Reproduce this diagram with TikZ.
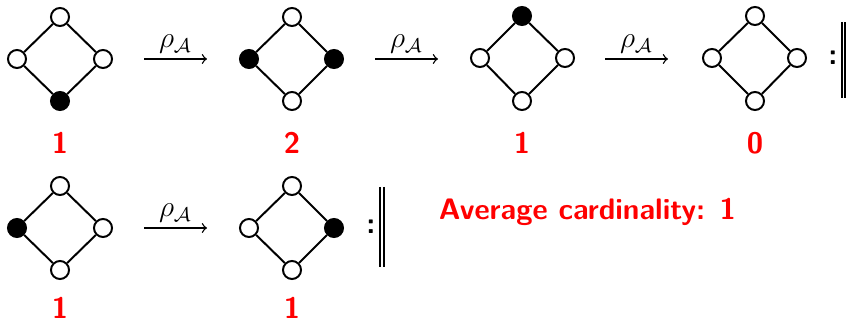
\documentclass[tikz,border=0pt]{standalone}
\usepackage{amsmath}
\usepackage{amsfonts}
\usepackage{tikz}
\usetikzlibrary{arrows}
\tikzstyle{var}=[circle,draw,fill=white,thick,minimum size=7.3pt,inner sep=0pt]
\tikzstyle{fvar}=[var,fill=black]
\tikzstyle{lnk}=[draw,thick]
\tikzstyle{arr}=[->,draw,line width=0.55pt]
\tikzstyle{lab}=[above,font=\large,inner sep=2pt]
\tikzstyle{card}=[text=red,font=\large\sffamily\bfseries,inner sep=1pt]
\tikzstyle{rep}=[font=\large\sffamily\bfseries,inner sep=0pt]

\begin{document}
\begin{tikzpicture}[x=0.405pt,y=-0.405pt]
      \useasboundingbox (0,0) rectangle (846,322);
      % first row
      \node[var] (A1) at (60,17) {};
      \node[var] (A2) at (17,59) {};
      \node[var] (A3) at (103,59) {};
      \node[fvar] (A4) at (60,101) {};
      \node[var] (B1) at (292,17) {};
      \node[fvar] (B2) at (249,59) {};
      \node[fvar] (B3) at (334,59) {};
      \node[var] (B4) at (292,101) {};
      \node[fvar] (C1) at (522,16) {};
      \node[var] (C2) at (480,58) {};
      \node[var] (C3) at (565,58) {};
      \node[var] (C4) at (522,101) {};
      \node[var] (D1) at (755,16) {};
      \node[var] (D2) at (712,58) {};
      \node[var] (D3) at (797,58) {};
      \node[var] (D4) at (755,101) {};
      \draw[lnk] (A1) -- (A3) -- (A4) -- (A2) -- (A1);
      \draw[lnk] (B1) -- (B3) -- (B4) -- (B2) -- (B1);
      \draw[lnk] (C1) -- (C3) -- (C4) -- (C2) -- (C1);
      \draw[lnk] (D1) -- (D3) -- (D4) -- (D2) -- (D1);
      \coordinate (s1) at (144,59);
      \coordinate (e1) at (207,59);
      \coordinate (s2) at (375,59);
      \coordinate (e2) at (438,59);
      \coordinate (s3) at (605,59);
      \coordinate (e3) at (668,59);
      \draw[arr] (s1) -- node[lab] {$\rho_{\mathcal{A}}$} (e1);
      \draw[arr] (s2) -- node[lab] {$\rho_{\mathcal{A}}$} (e2);
      \draw[arr] (s3) -- node[lab] {$\rho_{\mathcal{A}}$} (e3);
      \node[card] (nA) at (60,143) {1};
      \node[card] (nB) at (292,143) {2};
      \node[card] (nC) at (522,143) {1};
      \node[card] (nD) at (755,143) {0};
      \node[rep] (r1) at (833,58) {:};
      \coordinate (t1) at (842,22);
      \coordinate (b1) at (842,98);
      \coordinate (t2) at (846,22);
      \coordinate (b2) at (846,98);
      \draw[line width=0.45pt] (t1) -- (b1);
      \draw[line width=1.3pt] (t2) -- (b2);
      % second row
      \node[var] (E1) at (60,186) {};
      \node[fvar] (E2) at (17,228) {};
      \node[var] (E3) at (103,228) {};
      \node[var] (E4) at (60,270) {};
      \node[var] (F1) at (292,186) {};
      \node[var] (F2) at (249,228) {};
      \node[fvar] (F3) at (334,228) {};
      \node[var] (F4) at (292,270) {};
      \draw[lnk] (E1) -- (E3) -- (E4) -- (E2) -- (E1);
      \draw[lnk] (F1) -- (F3) -- (F4) -- (F2) -- (F1);
      \coordinate (s4) at (144,228);
      \coordinate (e4) at (207,228);
      \draw[arr] (s4) -- node[lab] {$\rho_{\mathcal{A}}$} (e4);
      \node[card] (nE) at (60,308) {1};
      \node[card] (nF) at (292,308) {1};
      \node[rep] (r2) at (371,227) {:};
      \coordinate (t3) at (380,187);
      \coordinate (b3) at (380,267);
      \coordinate (t4) at (384,187);
      \coordinate (b4) at (384,267);
      \draw[line width=0.45pt] (t3) -- (b3);
      \draw[line width=1pt] (t4) -- (b4);
      \node[card,anchor=west] (avg) at (436,212) {Average cardinality: 1};
  \end{tikzpicture}
\end{document}
